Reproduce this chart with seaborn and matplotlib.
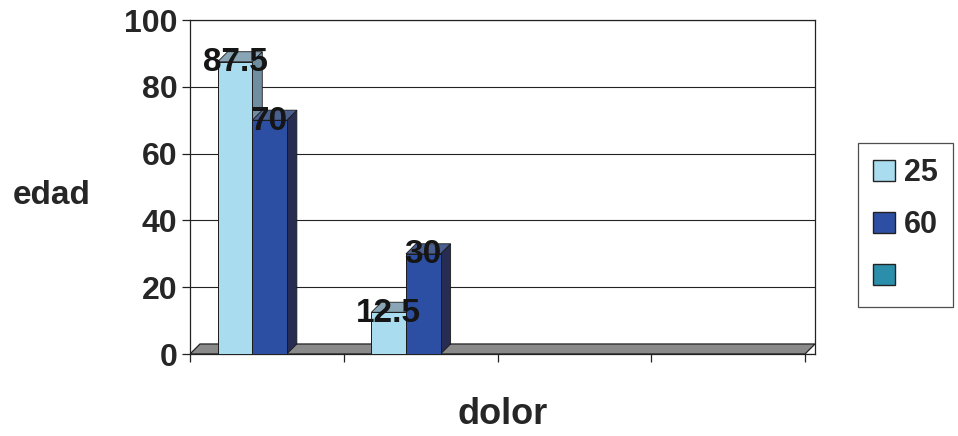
import numpy as np
import pandas as pd
import seaborn as sns
import matplotlib
matplotlib.use("Agg")
import matplotlib.pyplot as plt
from matplotlib.patches import Polygon, Patch

# ---- data ----
categories = ["c1", "c2", "c3", "c4"]
series_names = ["25", "60"]
values_25 = [87.5, 12.5, np.nan, np.nan]
values_60 = [70, 30, np.nan, np.nan]
y_ticks = [0, 20, 40, 60, 80, 100]
x_label = "dolor"
y_label = "edad"
extra_legend_label = ""

colors = {"25": "#a9dcee", "60": "#2d4fa3"}
side_colors = {"25": "#6f8fa0", "60": "#262c52"}
top_colors = {"25": "#8aa6b6", "60": "#4a5f90"}
extra_color = "#2b8fab"

df = pd.DataFrame({
    "cat": categories * 2,
    "serie": [series_names[0]] * 4 + [series_names[1]] * 4,
    "val": values_25 + values_60,
})
df = df.dropna()

sns.set_style("white")
plt.rcParams["font.family"] = ["Liberation Sans", "DejaVu Sans"]
plt.rcParams["font.weight"] = "bold"

fig = plt.figure(figsize=(9.58, 4.36), dpi=100)
ax = fig.add_axes([190 / 958, 1 - 354 / 436, 625 / 958, 334 / 436])

sns.barplot(data=df, x="cat", y="val", hue="serie", order=categories,
            hue_order=series_names, palette=colors, width=0.45, saturation=1,
            edgecolor="#1a1a1a", linewidth=0.7, legend=False, ax=ax,
            zorder=3, errorbar=None)

# shift pair slightly left (3D look) and add depth faces
dx, dy = 0.065, 3.0
shift = -0.095
for cont, name in zip(ax.containers, series_names):
    for p in cont.patches:
        p.set_x(p.get_x() + shift)
        x0, w, h = p.get_x(), p.get_width(), p.get_height()
        if not np.isfinite(h):
            continue
        side = Polygon([(x0 + w, 0), (x0 + w + dx, dy), (x0 + w + dx, h + dy), (x0 + w, h)],
                       closed=True, facecolor=side_colors[name], edgecolor="#1a1a1a",
                       linewidth=0.6, zorder=2.9)
        top = Polygon([(x0, h), (x0 + dx, h + dy), (x0 + w + dx, h + dy), (x0 + w, h)],
                      closed=True, facecolor=top_colors[name], edgecolor="#1a1a1a",
                      linewidth=0.6, zorder=2.9)
        ax.add_patch(side)
        ax.add_patch(top)
    ax.bar_label(cont, fmt="%g", padding=-12, fontsize=24, fontweight="bold",
                 color="#151515", zorder=6)

# floor
floor = Polygon([(-0.5, 0), (3.5, 0), (3.5 + dx, dy), (-0.5 + dx, dy)], closed=True,
                facecolor="#8a8a8a", edgecolor="#222222", linewidth=0.9, zorder=1.5)
ax.add_patch(floor)

ax.set_xlim(-0.5, 3.5 + dx)
ax.set_ylim(0, 100)
ax.set_yticks(y_ticks)
ax.set_yticklabels([str(t) for t in y_ticks], fontsize=23, fontweight="bold")
ax.set_xticks([-0.5, 0.5, 1.5, 2.5, 3.5])
ax.set_xticklabels([])
ax.tick_params(axis="both", direction="out", length=6, width=0.9, color="#222222",
               bottom=True, left=True)
ax.tick_params(axis="y", pad=3)
ax.grid(axis="y", color="#222222", linewidth=0.8, zorder=0)
ax.set_axisbelow(True)
for s in ax.spines.values():
    s.set_color("#222222")
    s.set_linewidth(0.9)
    s.set_visible(True)

ax.set_xlabel(x_label, fontsize=26, fontweight="bold")
ax.xaxis.set_label_coords(0.5, -0.18)
ax.xaxis.label.set_va("center")
ax.set_ylabel(y_label, fontsize=24, fontweight="bold", rotation=0)
ax.yaxis.set_label_coords(-0.221, 0.476)
ax.yaxis.label.set_va("center")
ax.yaxis.label.set_ha("center")

handles = [Patch(facecolor=colors[n], edgecolor="#222222", label=n) for n in series_names]
handles.append(Patch(facecolor=extra_color, edgecolor="#222222", label=extra_legend_label))
leg = ax.legend(handles=handles, loc="center left", bbox_to_anchor=(1.069, 0.386),
                fontsize=22, frameon=True, fancybox=False, edgecolor="#222222",
                handlelength=0.7, handleheight=0.7, handletextpad=0.3,
                labelspacing=0.72, borderpad=0.5, borderaxespad=0)
leg.get_frame().set_linewidth(0.9)
for t in leg.get_texts():
    t.set_fontweight("bold")

fig.savefig("out.png", dpi=100)
